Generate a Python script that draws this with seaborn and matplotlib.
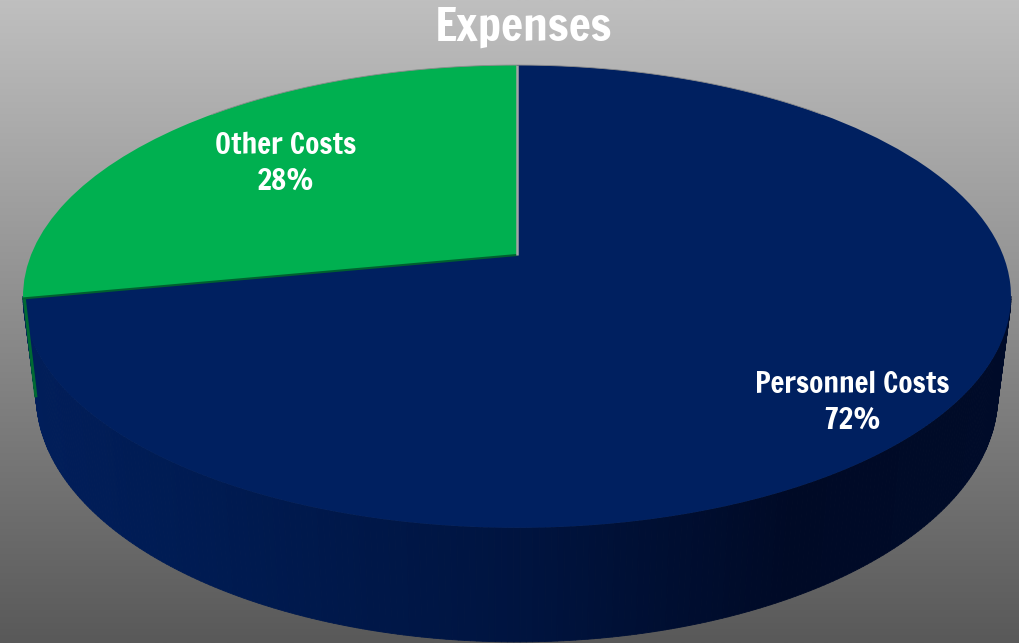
import numpy as np
import matplotlib
matplotlib.use("Agg")
import matplotlib.pyplot as plt
from matplotlib.collections import PolyCollection
from matplotlib.colors import LinearSegmentedColormap
from matplotlib.path import Path
from matplotlib.transforms import Transform
import seaborn as sns

title = "Expenses"
categories = ["Other Costs", "Personnel Costs"]
values = [28, 72]
slice_colors = ["#00B050", "#002060"]

sns.set_theme(style="white")
plt.rcParams["font.family"] = ["Francois One", "Archivo Narrow", "Liberation Sans", "DejaVu Sans"]
palette = sns.color_palette(slice_colors)


class Tilted(Transform):
    """Perspective view of the unit-circle pie, returned in pixel coordinates."""
    input_dims = 2
    output_dims = 2
    is_affine = False

    def __init__(self, a, b, c, k=0.179, cx=517.0):
        super().__init__()
        self.a, self.b, self.c, self.k, self.cx = a, b, c, k, cx

    def transform_non_affine(self, xy):
        xy = np.asarray(xy, dtype=float)
        w = 1 + self.k * xy[:, 1]
        return np.column_stack([self.cx + self.a * xy[:, 0] / w,
                                (self.c - self.b * xy[:, 1]) / w])

    def transform_path_non_affine(self, path):
        return Path(self.transform_non_affine(path.vertices), path.codes)


top = Tilted(a=486.0, b=178.3, c=255.0)
bottom = Tilted(a=473.0, b=176.0, c=351.0)

fig = plt.figure(figsize=(10.2, 6.43), dpi=100)
ax = fig.add_axes([0, 0, 1, 1])

wedges, _ = ax.pie(values, colors=palette, startangle=90, counterclock=True, radius=1)
for w in wedges:
    w.set_transform(top + ax.transData)
    w.set_zorder(3)
    w.set_linewidth(0)
    w.set_antialiased(True)

ax.set_aspect("auto")
ax.set_xlim(0, 1020)
ax.set_ylim(643, 0)
ax.axis("off")

# backdrop
backdrop = LinearSegmentedColormap.from_list("bg", ["#BFBFBF", "#595959"])
ax.imshow(np.linspace(0, 1, 256)[:, None], cmap=backdrop, aspect="auto",
          extent=(0, 1020, 643, 0), zorder=0)


def rim(tr, deg):
    t = np.radians(np.atleast_1d(deg))
    return tr.transform_non_affine(np.column_stack([np.cos(t), np.sin(t)]))


# boundary between slices, from the data
split = 90 + 360 * values[0] / sum(values)

# side wall
ang = np.linspace(split - 0.5, 349.7, 260)
t_rim, b_rim = rim(top, ang), rim(bottom, ang)
quads = [[t_rim[i], t_rim[i + 1], b_rim[i + 1], b_rim[i]] for i in range(len(ang) - 1)]
wall_cmap = LinearSegmentedColormap.from_list(
    "wall", [(0, "#011E5A"), (0.18, "#001B52"), (0.5, "#001440"),
             (0.78, "#000A26"), (1, "#000B29")])
mid_x = np.array([np.mean(np.array(q)[:, 0]) for q in quads])
shade = wall_cmap((mid_x - 30) / 975)
ax.add_collection(PolyCollection(quads, facecolors=shade, edgecolors=shade,
                                 linewidths=0.6, zorder=1))

# sliver of the green slice's cut face, above the face edge
p0, p1 = rim(top, split)[0], rim(bottom, split)[0]
ax.plot([p0[0] + 1.2, p1[0] - 0.3], [p0[1], p1[1]], color="#006A33", lw=2.2,
        solid_capstyle="butt", zorder=4)

# separators
centre = top.transform_non_affine(np.array([[0.0, 0.0]]))[0]
ax.plot([centre[0], p0[0]], [centre[1], p0[1]], color="#00602F", lw=1.5, zorder=4)
up = rim(top, 90)[0]
ax.plot([centre[0], up[0]], [centre[1], up[1]], color="#A6A6A6", lw=1.8,
        solid_capstyle="butt", zorder=4)
arc = rim(top, np.linspace(45, 135, 80))
ax.plot(arc[:, 0], arc[:, 1], color="#8C8C8C", lw=0.6, zorder=4)

# text
ax.text(524, 27.5, title, ha="center", va="center", color="white",
        fontsize=33.3, zorder=5)
label_anchor = {"Other Costs": (285.5, 163), "Personnel Costs": (852.5, 402)}
for name, v in zip(categories, values):
    lx, ly = label_anchor[name]
    ax.text(lx, ly, f"{name}\n{v}%", ha="center", va="center", color="white",
            fontsize=21, linespacing=1.42, zorder=5)

fig.savefig("out.png", dpi=100)
